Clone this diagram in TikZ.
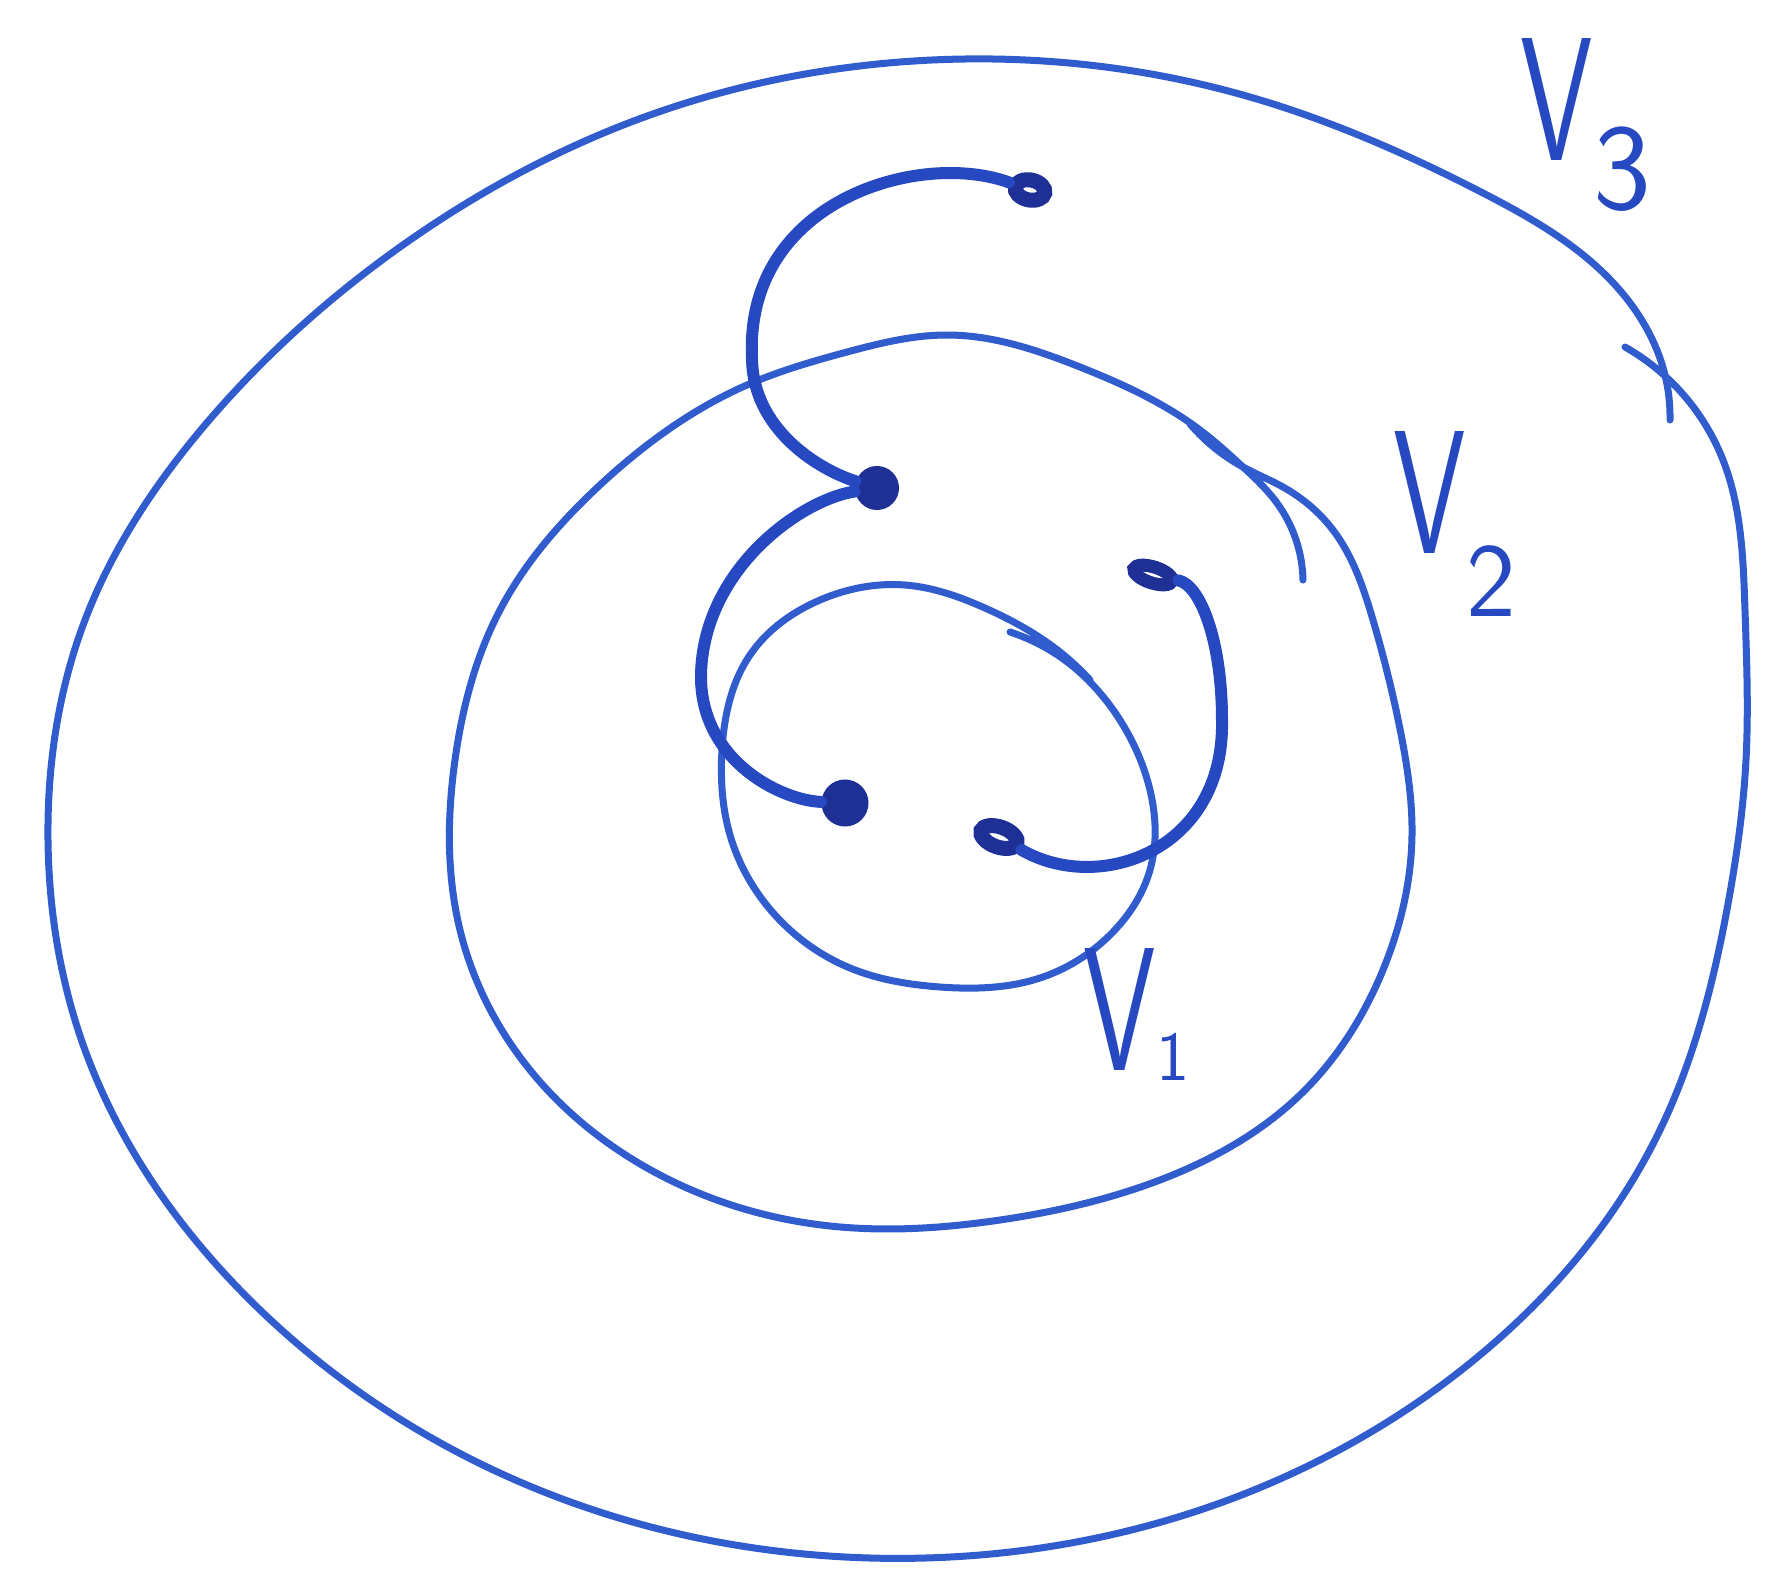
\documentclass[tikz,border=0pt]{standalone}
\usepackage{tikz}
\usepackage{xcolor}
\usetikzlibrary{shapes.geometric,hobby}
\definecolor{penBlue}{RGB}{48,92,206}
\definecolor{arcBlue}{RGB}{38,72,192}
\definecolor{dotBlue}{RGB}{30,48,150}
\newcommand{\handV}{\scalebox{0.66}[1]{V}}
\newcommand{\setName}[4]{\handV\kern#1\raisebox{#2}{\fontsize{#3}{#3}\selectfont #4}}

\begin{document}
\begin{tikzpicture}[x=0.01cm,y=-0.01cm,
  penLoop/.style={draw=penBlue, line width=0.7mm, line cap=round, line join=round, use Hobby shortcut},
  penArc/.style={draw=arcBlue, line width=1.2mm, line cap=round},
  holeDot/.style={ellipse, draw=dotBlue, fill=white, line width=1.5mm, minimum width=3.0mm, minimum height=2.0mm, inner sep=0pt},
  fullDot/.style={circle, fill=dotBlue, minimum size=4.4mm, inner sep=0pt},
  setLabel/.style={text=arcBlue, anchor=base west, inner sep=0pt, font={\fontsize{50}{50}\selectfont\sffamily}}]
\fill[white] (0,0) rectangle (1771,1587);
% V_3
\draw[penLoop] (1625,347) .. (1723,460) .. (1745,610) .. (1746,760) .. (1728,904) .. (1660,1130) .. (1480,1355) .. (1200,1510) .. (870,1558) .. (520,1482) .. (240,1290) .. (85,1050) .. (48,840) .. (85,620) .. (205,425) .. (410,240) .. (650,115) .. (900,62) .. (1250,97) .. (1483,193) .. (1617,287) .. (1665,375) .. (1670,420);
% V_2
\draw[penLoop] (1303,580) .. (1277,503) .. (1243,467) .. (1200,430) .. (1080,367) .. (947,335) .. (847,352) .. (747,385) .. (600,485) .. (500,610) .. (455,760) .. (460,930) .. (530,1070) .. (660,1175) .. (830,1226) .. (1000,1220) .. (1160,1180) .. (1300,1095) .. (1385,965) .. (1412,836) .. (1401,734) .. (1373,620) .. (1333,530) .. (1283,487) .. (1243,467) .. (1190,424);
% V_1
\draw[penLoop] (1010,632) .. (1066,661) .. (1118,717) .. (1150,790) .. (1150,870) .. (1110,935) .. (1040,978) .. (940,987) .. (850,968) .. (775,915) .. (730,835) .. (722,750) .. (750,655) .. (820,600) .. (905,585) .. (985,608) .. (1060,652) .. (1090,680);

\node[holeDot, rotate=-12] (ringTop) at (1030,190) {};
\node[fullDot] (midDot) at (877,488) {};
\node[fullDot, minimum size=4.7mm] (lowDot) at (845,803) {};
\node[holeDot, rotate=-18, line width=1.3mm, minimum width=4.0mm, minimum height=1.6mm] (ringRight) at (1153,575) {};
\node[holeDot, rotate=-20, minimum width=3.8mm] (ringLow) at (999,837) {};

\draw[penArc] (ringTop) .. controls (920,150) and (745,200) .. (752,357)
  .. controls (752,430) and (820,470) .. (midDot);
\draw[penArc] (midDot) .. controls (800,500) and (703,570) .. (701,675)
  .. controls (700,760) and (780,800) .. (lowDot);
\draw[penArc] (ringRight) .. controls (1200,585) and (1222,640) .. (1222,720)
  .. controls (1225,850) and (1100,895) .. (ringLow);

\node[setLabel] (nameThree) at (1520,160) {\setName{0pt}{-14pt}{35pt}{3}};
\node[setLabel] (nameTwo) at (1393,553) {\setName{0pt}{-18pt}{30pt}{2}};
\node[setLabel] (nameOne) at (1083,1070) {\setName{0pt}{-3pt}{20pt}{1}};
\end{tikzpicture}
\end{document}
